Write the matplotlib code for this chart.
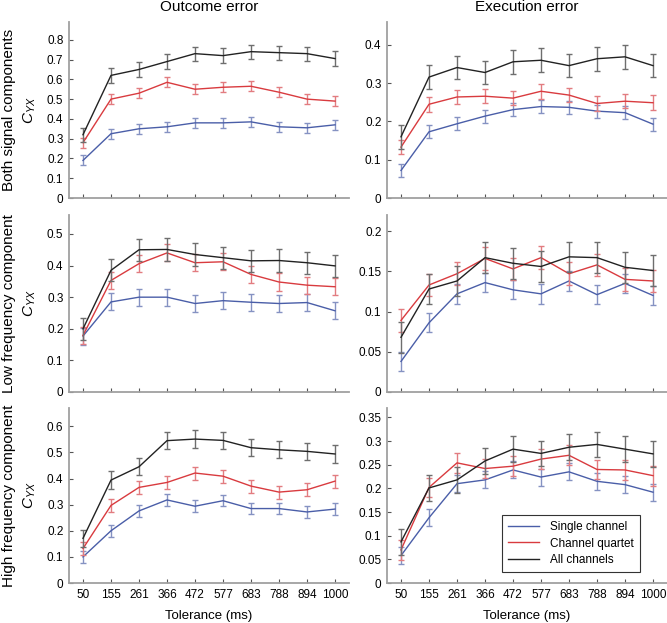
import matplotlib
matplotlib.use("Agg")
import matplotlib.pyplot as plt
from matplotlib.lines import Line2D

plt.rcParams['font.family'] = ['Liberation Sans', 'DejaVu Sans']
plt.rcParams['mathtext.fontset'] = 'custom'
plt.rcParams['mathtext.it'] = 'Liberation Sans:italic'
plt.rcParams['mathtext.rm'] = 'Liberation Sans'

# tolerance categories
tolerance = ["50", "155", "261", "366", "472", "577", "683", "788", "894", "1000"]
series_names = ["Single channel", "Channel quartet", "All channels"]
col_titles = ["Outcome error", "Execution error"]
row_titles = ["Both signal components", "Low frequency component", "High frequency component"]

# both components, outcome error
both_out_single = [0.19, 0.325, 0.35, 0.36, 0.38, 0.38, 0.385, 0.36, 0.355, 0.37]
both_out_quartet = [0.28, 0.50, 0.53, 0.585, 0.55, 0.56, 0.565, 0.535, 0.50, 0.49]
both_out_all = [0.32, 0.62, 0.65, 0.69, 0.73, 0.72, 0.74, 0.735, 0.73, 0.705]
both_out_err = [0.025, 0.025, 0.036]

# both components, execution error
both_exe_single = [0.072, 0.173, 0.194, 0.214, 0.231, 0.239, 0.237, 0.227, 0.223, 0.193]
both_exe_quartet = [0.133, 0.245, 0.264, 0.266, 0.261, 0.279, 0.269, 0.247, 0.253, 0.249]
both_exe_all = [0.16, 0.316, 0.341, 0.328, 0.356, 0.36, 0.346, 0.364, 0.369, 0.346]
both_exe_err = [0.017, 0.019, 0.031]

# low frequency, outcome error
low_out_single = [0.177, 0.285, 0.30, 0.30, 0.28, 0.289, 0.284, 0.28, 0.283, 0.257]
low_out_quartet = [0.179, 0.353, 0.406, 0.44, 0.409, 0.412, 0.372, 0.348, 0.338, 0.333]
low_out_all = [0.20, 0.385, 0.45, 0.451, 0.435, 0.425, 0.415, 0.416, 0.409, 0.399]
low_out_err = [0.027, 0.027, 0.035]

# low frequency, execution error
low_exe_single = [0.038, 0.086, 0.122, 0.136, 0.127, 0.122, 0.138, 0.121, 0.135, 0.12]
low_exe_quartet = [0.089, 0.133, 0.147, 0.166, 0.153, 0.167, 0.147, 0.158, 0.14, 0.138]
low_exe_all = [0.068, 0.128, 0.138, 0.167, 0.16, 0.156, 0.168, 0.167, 0.155, 0.151]
low_exe_err = [0.012, 0.014, 0.019]

# high frequency, outcome error
high_out_single = [0.10, 0.20, 0.276, 0.318, 0.294, 0.315, 0.285, 0.285, 0.272, 0.283]
high_out_quartet = [0.132, 0.297, 0.366, 0.385, 0.421, 0.409, 0.371, 0.348, 0.357, 0.39]
high_out_all = [0.171, 0.394, 0.445, 0.545, 0.551, 0.546, 0.518, 0.51, 0.504, 0.494]
high_out_err = [0.022, 0.025, 0.033]

# high frequency, execution error
high_exe_single = [0.058, 0.138, 0.21, 0.218, 0.239, 0.224, 0.235, 0.215, 0.208, 0.192]
high_exe_quartet = [0.07, 0.202, 0.254, 0.242, 0.247, 0.262, 0.27, 0.24, 0.239, 0.227]
high_exe_all = [0.087, 0.201, 0.218, 0.258, 0.283, 0.274, 0.287, 0.293, 0.283, 0.273]
high_exe_err = [0.018, 0.021, 0.027]

panels = [
    [(both_out_single, both_out_quartet, both_out_all, both_out_err),
     (both_exe_single, both_exe_quartet, both_exe_all, both_exe_err)],
    [(low_out_single, low_out_quartet, low_out_all, low_out_err),
     (low_exe_single, low_exe_quartet, low_exe_all, low_exe_err)],
    [(high_out_single, high_out_quartet, high_out_all, high_out_err),
     (high_exe_single, high_exe_quartet, high_exe_all, high_exe_err)],
]

ylims = [[0.89, 0.46], [0.56, 0.22], [0.67, 0.37]]
yticks = [
    [[0, 0.1, 0.2, 0.3, 0.4, 0.5, 0.6, 0.7, 0.8], [0, 0.1, 0.2, 0.3, 0.4]],
    [[0, 0.1, 0.2, 0.3, 0.4, 0.5], [0, 0.05, 0.1, 0.15, 0.2]],
    [[0, 0.1, 0.2, 0.3, 0.4, 0.5, 0.6], [0, 0.05, 0.1, 0.15, 0.2, 0.25, 0.3, 0.35]],
]

line_colors = ["#4a5ea8", "#d93b3f", "#222222"]
err_colors = ["#8592c2", "#e27c80", "#6e6e6e"]
spine_col = "#a0a0a0"

fig = plt.figure(figsize=(6.67, 6.23), dpi=100)

col_left = [69 / 667, 387 / 667]
ax_w = 280 / 667
row_bottom = [1 - 198 / 623, 1 - 392 / 623, 1 - 583 / 623]
row_h = [176 / 623, 177 / 623, 175 / 623]

x = list(range(1, len(tolerance) + 1))

for r in range(3):
    for c in range(2):
        ax = fig.add_axes([col_left[c], row_bottom[r], ax_w, row_h[r]])
        single, quartet, allc, errs = panels[r][c]
        for i, ys in enumerate([single, quartet, allc]):
            ax.errorbar(x, ys, yerr=errs[i], color=line_colors[i], ecolor=err_colors[i],
                        elinewidth=1.0, capsize=2.5, capthick=1.0, lw=1.0,
                        zorder=3 + i)
        ax.set_xlim(0.5, 10.5)
        ax.set_ylim(0, ylims[r][c])
        ax.set_yticks(yticks[r][c])
        ax.set_yticklabels([("%g" % v) for v in yticks[r][c]])
        ax.set_xticks(x)
        if r == 2:
            ax.set_xticklabels(tolerance)
            ax.set_xlabel("Tolerance (ms)", fontsize=9.5, labelpad=7)
        else:
            ax.set_xticklabels([])
        for s in ["top", "right"]:
            ax.spines[s].set_visible(False)
        for s in ["left", "bottom"]:
            ax.spines[s].set_color(spine_col)
            ax.spines[s].set_linewidth(1.3)
        ax.tick_params(direction="in", length=3, width=0.8, color="#555555",
                       labelsize=8.5, pad=4)
        if c == 0:
            ax.set_ylabel(r"$C_{YX}$", fontsize=11)
            ax.yaxis.set_label_coords(-0.11, 0.5)
            fig.text(0.014, row_bottom[r] + row_h[r] / 2, row_titles[r],
                     rotation=90, ha="center", va="center", fontsize=11)
        if r == 0:
            ax.set_title(col_titles[c], fontsize=11, pad=8)
        if r == 2 and c == 1:
            handles = [Line2D([], [], color=line_colors[i], lw=1.0) for i in range(3)]
            leg = ax.legend(handles, series_names, loc="upper left",
                            bbox_to_anchor=(0.41, 0.389),
                            borderaxespad=0, fontsize=8.5, fancybox=False,
                            handlelength=2.6, handletextpad=0.9,
                            labelspacing=0.35, borderpad=0.55, framealpha=1)
            leg.get_frame().set_edgecolor("#333333")
            leg.get_frame().set_linewidth(0.8)

fig.savefig("out.png", dpi=100)
